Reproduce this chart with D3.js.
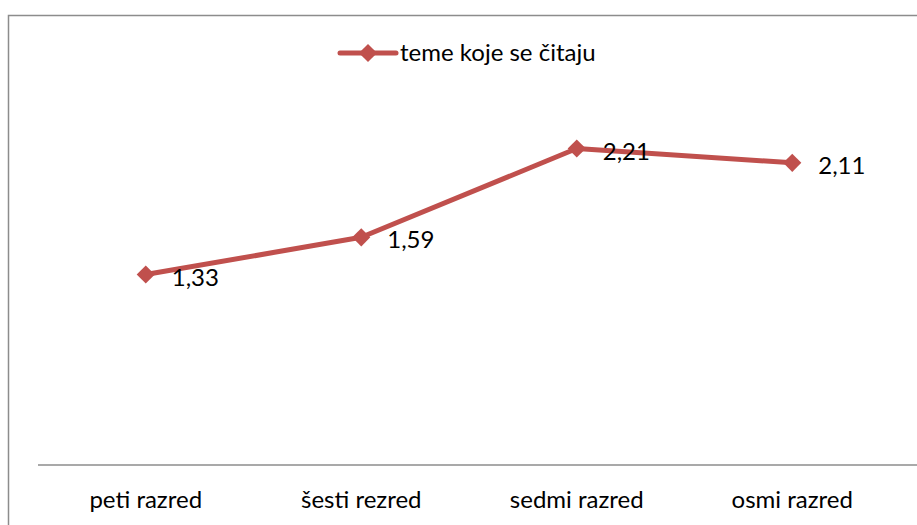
<!DOCTYPE html>
<html>
<head>
<meta charset="utf-8">
<script src="https://cdn.jsdelivr.net/npm/d3@7"></script>
<style>
  body { margin: 0; background: #fff; }
  text { font-family: Lato, "Open Sans", sans-serif; fill: #000; }
</style>
</head>
<body>
<div id="chart"></div>
<script>
var categories = ["peti razred", "šesti rezred", "sedmi razred", "osmi razred"];
var values = [1.33, 1.59, 2.21, 2.11];
var valueLabels = ["1,33", "1,59", "2,21", "2,11"];
var seriesName = "teme koje se čitaju";

var W = 917, H = 525;
var margin = { top: 107, left: 38, right: 17, bottom: 60 };
var lineColor = "#C0504D";
var fontSize = "24px";

var svg = d3.select("#chart").append("svg")
  .attr("width", W)
  .attr("height", H);

// outer frame
svg.append("rect")
  .attr("x", 8.5).attr("y", 15.5)
  .attr("width", W + 10).attr("height", H + 10)
  .attr("fill", "none")
  .attr("stroke", "#8c8c8c")
  .attr("stroke-width", 1.5);

var x = d3.scaleBand()
  .domain(categories)
  .range([margin.left, W - margin.right]);

var y = d3.scaleLinear()
  .domain([0, 2.5])
  .range([465, margin.top]);

// x axis
var xAxis = svg.append("g")
  .attr("transform", "translate(0,465)")
  .call(d3.axisBottom(x).tickSize(0).tickPadding(26));
xAxis.select(".domain").attr("stroke", "#8c8c8c").attr("stroke-width", 1.5)
  .attr("d", "M" + margin.left + ",0H" + W);
xAxis.selectAll("text")
  .style("font-size", fontSize)
  .style("font-family", "Lato, 'Open Sans', sans-serif");

var pts = categories.map(function(c, i) {
  return { cat: c, v: values[i], label: valueLabels[i] };
});

var line = d3.line()
  .x(function(d) { return x(d.cat) + x.bandwidth() / 2; })
  .y(function(d) { return y(d.v); });

svg.append("path")
  .datum(pts)
  .attr("d", line)
  .attr("fill", "none")
  .attr("stroke", lineColor)
  .attr("stroke-width", 5)
  .attr("stroke-linejoin", "round");

var diamond = d3.symbol().type(d3.symbolDiamond2).size(210);

svg.selectAll(".marker")
  .data(pts)
  .enter().append("path")
  .attr("class", "marker")
  .attr("d", diamond)
  .attr("fill", lineColor)
  .attr("transform", function(d) {
    return "translate(" + (x(d.cat) + x.bandwidth() / 2) + "," + y(d.v) + ")";
  });

svg.selectAll(".vlabel")
  .data(pts)
  .enter().append("text")
  .attr("class", "vlabel")
  .attr("x", function(d) { return x(d.cat) + x.bandwidth() / 2 + 26; })
  .attr("y", function(d) { return y(d.v) + 11; })
  .style("font-size", fontSize)
  .text(function(d) { return d.label; });

// legend
var lg = svg.append("g").attr("transform", "translate(340,53)");
lg.append("line")
  .attr("x1", 0).attr("x2", 56)
  .attr("y1", 0).attr("y2", 0)
  .attr("stroke", lineColor)
  .attr("stroke-width", 5)
  .attr("stroke-linecap", "round");
lg.append("path")
  .attr("d", diamond)
  .attr("fill", lineColor)
  .attr("transform", "translate(28,0)");
lg.append("text")
  .attr("x", 60).attr("y", 8)
  .style("font-size", fontSize)
  .text(seriesName);
</script>
</body>
</html>
